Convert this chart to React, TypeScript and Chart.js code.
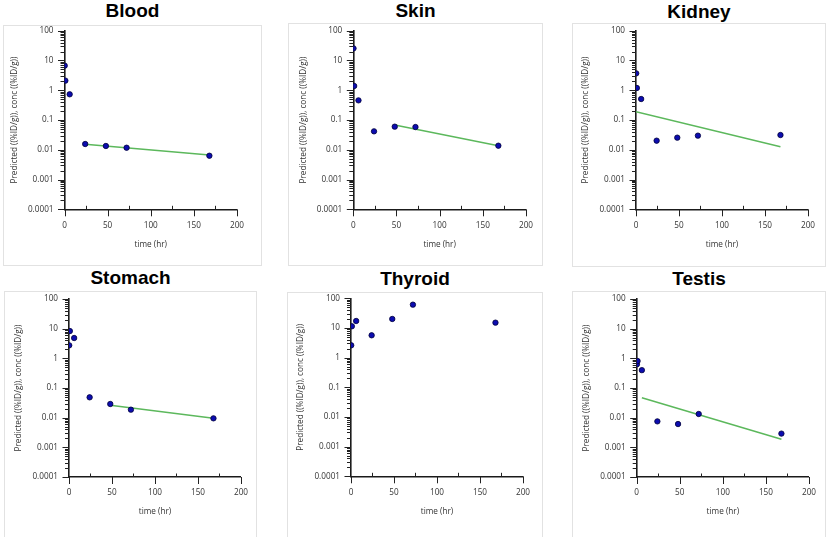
import React, { useEffect, useRef } from "react";
import { Chart, registerables } from "chart.js";

// ---- data ----
const times = [0.25, 1, 6, 24, 48, 72, 168];
const bloodConc = [6.7, 2.1, 0.73, 0.0156, 0.0134, 0.0117, 0.0063];
const skinConc = [25.5, 1.39, 0.457, 0.0416, 0.0597, 0.058, 0.0137];
const kidneyConc = [3.69, 1.19, 0.507, 0.0202, 0.0255, 0.0298, 0.0313];
const stomachConc = [2.74, 8.3, 4.84, 0.0485, 0.0289, 0.0186, 0.0095];
const thyroidConc = [2.6, 11.4, 17.2, 5.66, 20.1, 61, 15.1];
const testisConc = [0.63, 0.81, 0.4, 0.0075, 0.0061, 0.0133, 0.0029];

const bloodFitT = [24, 168];
const bloodFit = [0.0152, 0.0067];
const skinFitT = [48, 168];
const skinFit = [0.068, 0.0136];
const kidneyFitT = [0, 168];
const kidneyFit = [0.19, 0.0127];
const stomachFitT = [48, 168];
const stomachFit = [0.026, 0.0095];
const testisFitT = [6, 168];
const testisFit = [0.047, 0.00186];

const yTickValues = [0.0001, 0.001, 0.01, 0.1, 1, 10, 100];
const xTickStep = 50;
const xMin = 0;
const xMax = 200;

const yTitle = "Predicted ((%ID/g)), conc ((%ID/g))";
const xTitle = "time (hr)";

type Spec = {
  title: string;
  conc: number[];
  fitT: number[] | null;
  fit: number[] | null;
  area: [number, number, number, number]; // L T R B
  box: [number, number, number, number];
  titleTop: number;
};

const specs: Spec[] = [
  { title: "Blood", conc: bloodConc, fitT: bloodFitT, fit: bloodFit, area: [64.5, 30.7, 243.3, 209.3], box: [3, 25, 262, 266], titleTop: 0.7 },
  { title: "Skin", conc: skinConc, fitT: skinFitT, fit: skinFit, area: [353.3, 30.7, 532.3, 209.3], box: [288, 23, 543, 266], titleTop: 0.7 },
  { title: "Kidney", conc: kidneyConc, fitT: kidneyFitT, fit: kidneyFit, area: [636, 30.7, 815, 209.3], box: [572, 23, 826, 267], titleTop: 1.5 },
  { title: "Stomach", conc: stomachConc, fitT: stomachFitT, fit: stomachFit, area: [69, 299, 248, 477], box: [4, 291, 257, 560], titleTop: 268 },
  { title: "Thyroid", conc: thyroidConc, fitT: null, fit: null, area: [351, 298.3, 530, 476.3], box: [287, 292, 543, 560], titleTop: 268.5 },
  { title: "Testis", conc: testisConc, fitT: testisFitT, fit: testisFit, area: [636.7, 299, 815.7, 477], box: [572, 291, 826, 560], titleTop: 268.5 },
];

const AXIS_FONT = { family: '"Open Sans", "DejaVu Sans", sans-serif', size: 8.2 };
const TEXT_COLOR = "#333";
const WY = 55;
const HX = 40;

const tickPlugin = {
  id: "customAxisTicks",
  afterDraw(chart: any) {
    const ctx = chart.ctx;
    const area = chart.chartArea;
    const x = chart.scales["x"];
    const y = chart.scales["y"];
    if (!x || !y || !area) return;
    ctx.save();
    ctx.strokeStyle = "#222";
    ctx.lineWidth = 1;
    ctx.beginPath();
    const b = area.bottom;
    for (let v = xMin; v <= xMax; v += xTickStep / 2) {
      const px = Math.round(x.getPixelForValue(v)) + 0.5;
      if (v % xTickStep === 0) {
        ctx.moveTo(px, b);
        ctx.lineTo(px, b + 7);
      } else {
        ctx.moveTo(px, b);
        ctx.lineTo(px, b - 3.5);
      }
    }
    const l = area.left;
    for (let i = 0; i < yTickValues.length; i++) {
      const d = yTickValues[i];
      const py = Math.round(y.getPixelForValue(d)) + 0.5;
      ctx.moveTo(l - 6.5, py);
      ctx.lineTo(l, py);
      if (i < yTickValues.length - 1) {
        for (let m = 2; m <= 9; m++) {
          const pm = Math.round(y.getPixelForValue(d * m)) + 0.5;
          ctx.moveTo(l - 4, pm);
          ctx.lineTo(l, pm);
        }
      }
    }
    ctx.stroke();
    ctx.restore();
  },
};

Chart.register(...registerables, tickPlugin);

function Panel({ spec }: { spec: Spec }) {
  const ref = useRef<HTMLCanvasElement>(null);
  const [L, T, R, B] = spec.area;
  const cx = Math.floor(L - 64);
  const cy = Math.floor(T - 20);
  const cw = Math.ceil(R + 11) - cx;
  const ch = Math.ceil(B + 52) - cy;

  useEffect(() => {
    const canvas = ref.current!;
    const datasets: any[] = [
      {
        label: "conc",
        data: times.map((t, i) => ({ x: t, y: spec.conc[i] })),
        showLine: false,
        pointRadius: 2.7,
        pointBackgroundColor: "#0c0cb0",
        pointBorderColor: "#00003a",
        pointBorderWidth: 0.8,
        order: 0,
      },
    ];
    if (spec.fitT && spec.fit) {
      datasets.push({
        label: "Predicted",
        data: spec.fitT.map((t, i) => ({ x: t, y: spec.fit![i] })),
        showLine: true,
        borderColor: "#5cb85c",
        borderWidth: 1.5,
        pointRadius: 0,
        order: 1,
      });
    }
    const chart = new Chart(canvas, {
      type: "scatter",
      data: { datasets },
      options: {
        animation: false,
        responsive: false,
        devicePixelRatio: 1,
        layout: {
          padding: {
            left: L - WY - cx,
            top: T - cy,
            right: cx + cw - R,
            bottom: cy + ch - B - HX,
          },
        },
        plugins: { legend: { display: false }, tooltip: { enabled: false }, title: { display: false } },
        scales: {
          x: {
            type: "linear",
            min: xMin,
            max: xMax,
            grid: { drawOnChartArea: false, drawTicks: false },
            border: { display: true, color: "#1a1a1a", width: 1.6 },
            ticks: {
              stepSize: xTickStep,
              padding: 11,
              color: TEXT_COLOR,
              font: AXIS_FONT,
              maxRotation: 0,
              callback: (v: any) => String(v),
            },
            title: { display: true, text: xTitle, color: TEXT_COLOR, font: AXIS_FONT, padding: 0 },
            afterFit: (s: any) => {
              s.height = HX;
            },
          },
          y: {
            type: "logarithmic",
            min: yTickValues[0],
            max: yTickValues[yTickValues.length - 1],
            grid: { drawOnChartArea: false, drawTicks: false },
            border: { display: true, color: "#1a1a1a", width: 1.6 },
            afterBuildTicks: (s: any) => {
              s.ticks = yTickValues.map((v) => ({ value: v }));
            },
            ticks: {
              padding: 11,
              color: TEXT_COLOR,
              font: AXIS_FONT,
              autoSkip: false,
              callback: (v: any) => String(v),
            },
            title: { display: true, text: yTitle, color: TEXT_COLOR, font: AXIS_FONT, padding: 0 },
            afterFit: (s: any) => {
              s.width = WY;
            },
          },
        },
      } as any,
    });
    return () => chart.destroy();
  }, []);

  const [bx0, by0, bx1, by1] = spec.box;
  return (
    <>
      <div
        style={{
          position: "absolute",
          left: bx0,
          top: by0,
          width: bx1 - bx0,
          height: by1 - by0,
          border: "1px solid #e2e2e2",
          boxSizing: "border-box",
        }}
      />
      <div
        style={{
          position: "absolute",
          left: bx0,
          width: bx1 - bx0,
          top: spec.titleTop,
          textAlign: "center",
          font: 'bold 19px "Liberation Sans", Arial, sans-serif',
          lineHeight: "19px",
          color: "#000",
        }}
      >
        {spec.title}
      </div>
      <canvas
        ref={ref}
        width={cw}
        height={ch}
        style={{ position: "absolute", left: cx, top: cy, width: cw, height: ch }}
      />
    </>
  );
}

export default function App() {
  return (
    <div
      style={{
        position: "absolute",
        left: 0,
        top: 0,
        width: 827,
        height: 537,
        overflow: "hidden",
        background: "#fff",
      }}
    >
      {specs.map((s) => (
        <Panel key={s.title} spec={s} />
      ))}
    </div>
  );
}
